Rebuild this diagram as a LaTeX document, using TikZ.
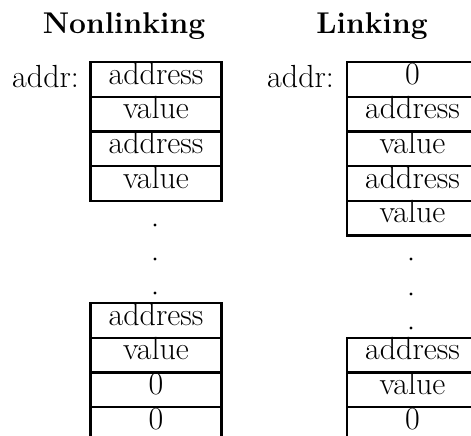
\documentclass[tikz,border=0pt]{standalone}
\usepackage{tikz}

\tikzset{
  cell/.style={draw, line width=1.2pt, minimum width=65.5pt, minimum height=17.35pt,
    inner sep=0pt, text height=0.68em, text depth=0.2em, anchor=center},
  label/.style={font=\fontsize{16}{18}\selectfont},
  title/.style={font=\fontsize{15}{18}\selectfont\bfseries, anchor=base}
}

\begin{document}
\begin{tikzpicture}[x=0.5pt,y=-0.5pt]
\useasboundingbox (0,0) rectangle (471,435);
\clip (0,0) rectangle (471,435);
\begin{scope}[every node/.append style={label}]
\node[title] (tnon) at (124,33) {Nonlinking};
\node[title] (tlink) at (372,33) {Linking};
\node[anchor=base east] (anon) at (86,87) {addr:};
\node[anchor=base east] (alink) at (341,87) {addr:};
% nonlinking, top part
\node[cell] (n1) at (156,79.35) {address};
\node[cell] (n2) at (156,114.05) {value};
\node[cell] (n3) at (156,148.75) {address};
\node[cell] (n4) at (156,183.45) {value};
% nonlinking, bottom part
\node[cell] (n5) at (156,320.35) {address};
\node[cell] (n6) at (156,355.05) {value};
\node[cell] (n7) at (156,389.75) {0};
\node[cell] (n8) at (156,424.45) {0};
% linking, top part
\node[cell] (l1) at (412.5,79.35) {0};
\node[cell] (l2) at (412.5,114.05) {address};
\node[cell] (l3) at (412.5,148.75) {value};
\node[cell] (l4) at (412.5,183.45) {address};
\node[cell] (l5) at (412.5,218.15) {value};
% linking, bottom part
\node[cell] (l6) at (412.5,355.05) {address};
\node[cell] (l7) at (412.5,389.75) {value};
\node[cell] (l8) at (412.5,424.45) {0};
\end{scope}

% dots
\foreach \y in {225,259,293} \fill (155,\y) circle (1.7);
\foreach \y in {259,294,328} \fill (411,\y) circle (1.7);
\end{tikzpicture}
\end{document}
